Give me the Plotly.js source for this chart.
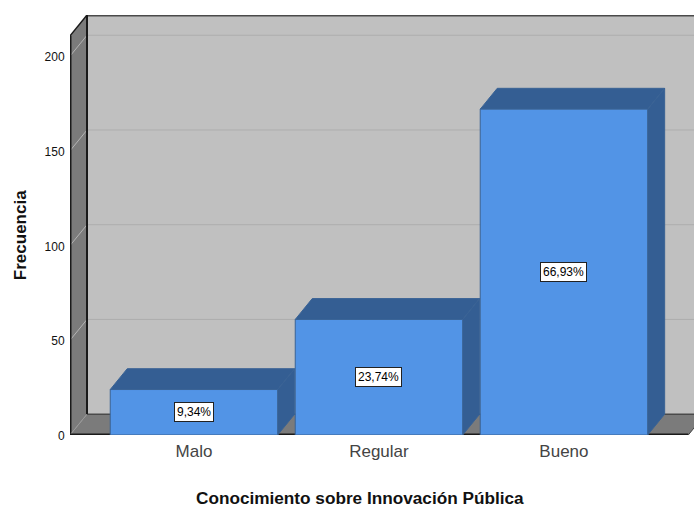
<!DOCTYPE html>
<html>
<head>
<meta charset="utf-8">
<script src="https://cdn.plot.ly/plotly-3.0.1.min.js"></script>
<style>html,body{margin:0;padding:0;background:#fff}#chart{width:694px;height:506px}</style>
</head>
<body>
<div id="chart"></div>
<script>
var categories = ["Malo", "Regular", "Bueno"];
var frequencies = [24, 61, 172];
var percentLabels = ["9,34%", "23,74%", "66,93%"];
var yTicks = [0, 50, 100, 150, 200];
var xTitle = "Conocimiento sobre Innovación Pública";
var yTitle = "Frecuencia";

var positions = categories.map(function (_, i) { return i; });
var xMin = -0.67, xMax = 2.703, yMax = 221.7;
var barWidth = 0.905, depthX = 0.0919, depthY = 11, frontRight = 2.672;

var FONT = '"Liberation Sans", Arial, sans-serif';
var WALL = "#c0c0c0", SIDE = "#7b7b7b", FLOOR = "#7b7b7b";
var BLUE = "#5294e6", BLUE_DARK = "#345e93", EDGE = "#3a6395";

function poly(pts, fill, lineColor, lineWidth) {
  var d = pts.map(function (p, i) { return (i ? "L" : "M") + p[0] + "," + p[1]; }).join(" ") + " Z";
  return { type: "path", xref: "x", yref: "y", path: d, fillcolor: fill, layer: "below",
           line: { color: lineColor || fill, width: lineWidth === undefined ? 0 : lineWidth } };
}
function seg(x0, y0, x1, y1, color, width) {
  return { type: "line", xref: "x", yref: "y", x0: x0, y0: y0, x1: x1, y1: y1, layer: "below",
           line: { color: color, width: width } };
}

var topFront = yMax - depthY;
var backX = xMin + depthX;
var shapes = [];
shapes.push(poly([[backX, depthY], [xMax + 1, depthY], [xMax + 1, yMax], [backX, yMax]], WALL));
shapes.push(poly([[xMin, 0], [frontRight, 0], [frontRight + depthX, depthY], [backX, depthY]], FLOOR));
shapes.push(poly([[xMin, 0], [backX, depthY], [backX, yMax], [xMin, topFront]], SIDE));
yTicks.slice(1).forEach(function (t) {
  shapes.push(seg(backX, t + depthY, xMax + 1, t + depthY, "#adadad", 1));
  shapes.push(seg(xMin, t, backX, t + depthY, "#b4b4b4", 1));
});
shapes.push(seg(backX, yMax, xMax + 1, yMax, "#4a4a4a", 3));
shapes.push(seg(backX, depthY, xMax + 1, depthY, "#4a4a4a", 1.5));
shapes.push(seg(backX, depthY, backX, yMax, "#1a1a1a", 2));
shapes.push(seg(xMin, topFront, backX, yMax, "#1a1a1a", 1.5));
shapes.push(seg(xMin, 0, xMin, topFront, "#1a1a1a", 3));
shapes.push(seg(xMin, 0, backX, depthY, "#999999", 1));
shapes.push(seg(xMin, 0, frontRight, 0, "#1a1a1a", 3));
shapes.push(seg(frontRight, 0, frontRight + depthX, depthY, "#444444", 1));

positions.forEach(function (p, i) {
  var l = p - barWidth / 2, r = p + barWidth / 2, v = frequencies[i];
  shapes.push(poly([[l, v], [r, v], [r + depthX, v + depthY], [l + depthX, v + depthY]], BLUE_DARK, EDGE, 1));
  shapes.push(poly([[r, 0], [r + depthX, depthY], [r + depthX, v + depthY], [r, v]], BLUE_DARK, EDGE, 1));
});

var annotations = positions.map(function (p, i) {
  return { x: p, y: frequencies[i] / 2, xref: "x", yref: "y", text: percentLabels[i], showarrow: false,
           font: { family: FONT, size: 12, color: "#000" }, bgcolor: "#fff",
           bordercolor: "#222", borderwidth: 1, borderpad: 2 };
});
annotations.push({ xref: "paper", yref: "paper", x: 0.4647, y: -0.15, xanchor: "center", yanchor: "middle",
  text: "<b>" + xTitle + "</b>", showarrow: false, font: { family: FONT, size: 17.2, color: "#111" } });
annotations.push({ xref: "paper", yref: "paper", x: -0.08, y: 0.476, xanchor: "center", yanchor: "middle",
  text: "<b>" + yTitle + "</b>", showarrow: false, textangle: -90, font: { family: FONT, size: 17, color: "#111" } });

var trace = {
  type: "bar", x: positions, y: frequencies, width: barWidth,
  marker: { color: BLUE, line: { color: EDGE, width: 1 } },
  hoverinfo: "skip"
};

var layout = {
  width: 694, height: 506, showlegend: false,
  paper_bgcolor: "#fff", plot_bgcolor: "rgba(0,0,0,0)",
  margin: { l: 70, r: 0, t: 15, b: 71, pad: 0 },
  font: { family: FONT },
  xaxis: {
    range: [xMin, xMax], tickvals: positions, ticktext: categories, showgrid: false, zeroline: false,
    ticks: "outside", ticklen: 1, tickcolor: "rgba(0,0,0,0)", tickfont: { family: FONT, size: 17, color: "#444" }
  },
  yaxis: {
    range: [0, yMax], tickvals: yTicks, showgrid: false, zeroline: false,
    ticks: "outside", ticklen: 2, tickcolor: "rgba(0,0,0,0)", ticklabelshift: 1,
    tickfont: { family: FONT, size: 12, color: "#111" }
  },
  shapes: shapes,
  annotations: annotations
};

Plotly.newPlot("chart", [trace], layout, { displayModeBar: false, staticPlot: true });
</script>
</body>
</html>
